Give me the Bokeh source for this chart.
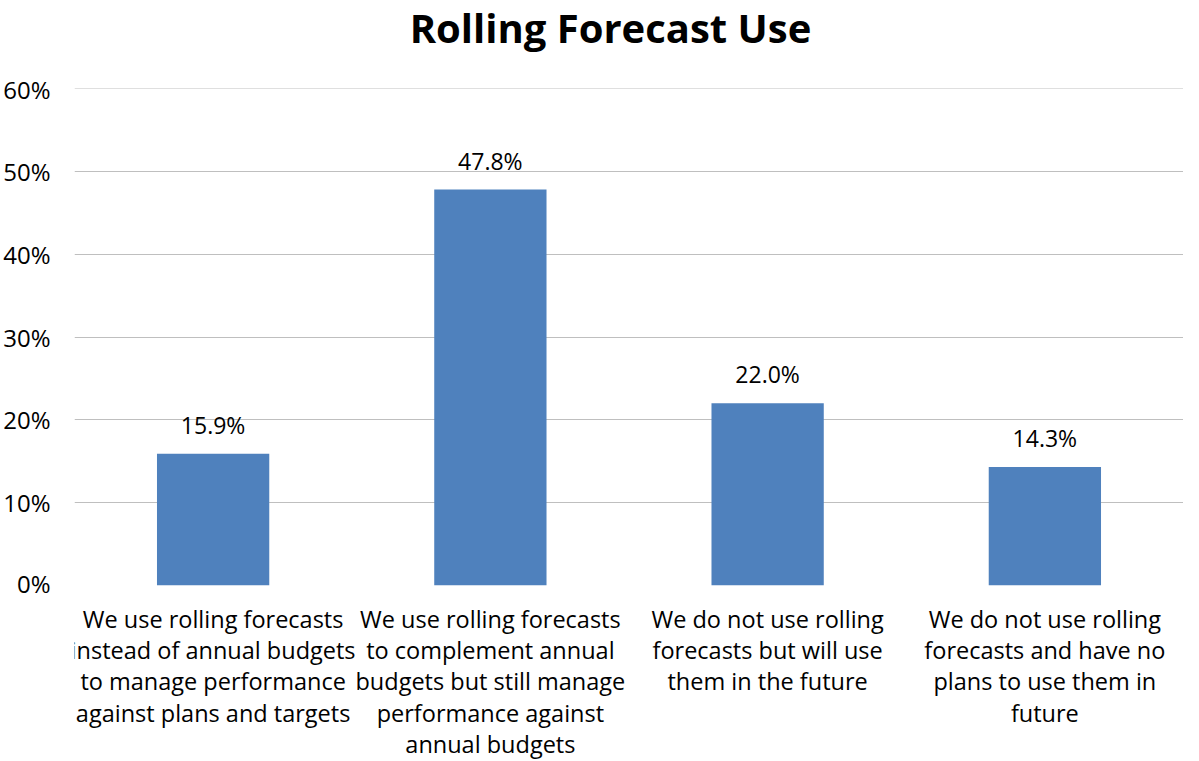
from bokeh.plotting import figure
from bokeh.models import ColumnDataSource, NumeralTickFormatter, FixedTicker, Range1d, LabelSet, Label, Span
from bokeh.layouts import column
from bokeh.core.properties import value
from bokeh.embed import file_html
from bokeh.resources import INLINE

title_text = "Rolling Forecast Use"
categories = [
    "We use rolling forecasts\ninstead of annual budgets\nto manage performance\nagainst plans and targets",
    "We use rolling forecasts\nto complement annual\nbudgets but still manage\nperformance against\nannual budgets",
    "We do not use rolling\nforecasts but will use\nthem in the future",
    "We do not use rolling\nforecasts and have no\nplans to use them in\nfuture",
]
values = [0.159, 0.478, 0.220, 0.143]
value_labels = ["15.9%", "47.8%", "22.0%", "14.3%"]
y_ticks = [0, 0.1, 0.2, 0.3, 0.4, 0.5, 0.6]
y_start, y_end = 0, 0.6

FONT = "Open Sans"
W = 1183

source = ColumnDataSource(dict(cat=categories, val=values, lab=value_labels,
                               base=[y_start] * len(categories)))

# --- title panel ---
p0 = figure(width=W, height=72, x_range=Range1d(0, 1), y_range=Range1d(0, 1),
            x_axis_type=None, y_axis_type=None,
            output_backend="svg", toolbar_location=None,
            min_border_left=0, min_border_right=0, min_border_top=0, min_border_bottom=0)
p0.grid.visible = False
p0.outline_line_color = None
p0.add_layout(Label(x=536, y=45, x_units="screen", y_units="screen", text=title_text,
                    text_align="center", text_baseline="alphabetic", text_font=FONT,
                    text_font_size="40px", text_font_style="bold", text_color="#000000"))

# --- chart ---
p = figure(
    x_range=categories, y_range=Range1d(y_start, y_end),
    width=W, height=527, x_axis_type=None,
    output_backend="svg", toolbar_location=None,
    min_border_left=68, min_border_right=0, min_border_top=16, min_border_bottom=14,
)
p.vbar(x="cat", top="val", width=0.405, source=source, color="#4F81BD", line_color=None)

labels = LabelSet(x="cat", y="val", text="lab", source=source, text_align="center",
                  text_baseline="bottom", y_offset=13, text_font=value(FONT),
                  text_font_size="23px", text_color="#000000")
p.add_layout(labels)

p.outline_line_color = None
p.xgrid.grid_line_color = None
p.ygrid.grid_line_color = "#BFBFBF"
p.ygrid.grid_line_width = 1
p.add_layout(Span(location=y_end, dimension="width", line_color="#BFBFBF", line_width=1))

p.yaxis.ticker = FixedTicker(ticks=y_ticks)
p.yaxis.formatter = NumeralTickFormatter(format="0%")
p.yaxis.axis_line_color = None
p.yaxis.major_tick_line_color = None
p.yaxis.minor_tick_line_color = None
p.yaxis.major_label_text_font = FONT
p.yaxis.major_label_text_font_size = "24px"
p.yaxis.major_label_text_color = "#000000"
p.yaxis.major_label_standoff = 18

# --- category labels panel below the chart, sharing the same categorical x range ---
p2 = figure(
    x_range=p.x_range, y_range=Range1d(y_start - 1, y_start),
    width=W, height=161, x_axis_type=None, y_axis_type=None,
    output_backend="svg", toolbar_location=None,
    min_border_left=68, min_border_right=0, min_border_top=0, min_border_bottom=0,
)
p2.text(x="cat", y="base", text="cat", source=source, text_align="center",
        text_baseline="top", y_offset=3, text_font=value(FONT),
        text_font_size="23.5px", text_color="#000000", text_line_height=0.98)
p2.grid.visible = False
p2.outline_line_color = None

layout = column(p0, p, p2, spacing=0)
open("out.html", "w").write(file_html(layout, INLINE))
